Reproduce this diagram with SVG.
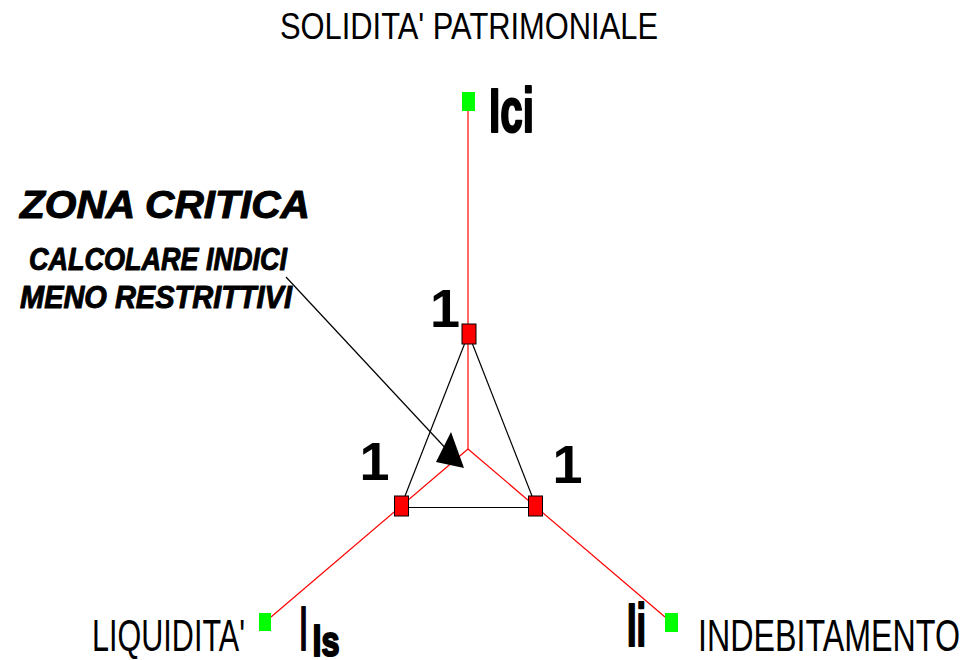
<svg xmlns="http://www.w3.org/2000/svg" width="977" height="660" viewBox="0 0 977 660">
<style>
.t{font-family:"Liberation Sans",Arial,sans-serif;fill:#000}
.b{font-weight:bold}
.i{font-style:italic}
.hv{stroke:#000;stroke-width:2.2;stroke-linejoin:round}
.md{stroke:#000;stroke-width:1;stroke-linejoin:round}
.red{stroke:#ff0000;stroke-width:1.2;fill:none}
.blk{stroke:#000;stroke-width:1.2;fill:none}
.rs{fill:#ff0000;stroke:#000;stroke-width:1}
.gs{fill:#00ff00;stroke:none}
</style>
<rect width="977" height="660" fill="#fff"/>
<g id="connectors">
<line class="red" x1="468" y1="111" x2="468" y2="449"/>
<line class="red" x1="468" y1="449" x2="271" y2="617"/>
<line class="red" x1="468" y1="449" x2="665" y2="617"/>
<line class="blk" x1="464.5" y1="344" x2="405" y2="496"/>
<line class="blk" x1="472.5" y1="344" x2="532" y2="496"/>
<line class="blk" x1="408" y1="507.5" x2="529" y2="507.5"/>
<line class="blk" x1="286" y1="277" x2="450" y2="453"/>
<polygon points="464,468 451,432 436,462" fill="#000"/>
</g>
<g id="axis-top">
<rect class="gs" x="462" y="92" width="13" height="19"/>
<text class="t b hv" x="489" y="132" font-size="63" textLength="45" lengthAdjust="spacingAndGlyphs">Ici</text>
<text class="t" x="280" y="39" font-size="37" textLength="378" lengthAdjust="spacingAndGlyphs">SOLIDITA' PATRIMONIALE</text>
</g>
<g id="axis-left">
<rect class="gs" x="259" y="613" width="12" height="18"/>
<text class="t" x="92" y="651" font-size="45" textLength="153" lengthAdjust="spacingAndGlyphs">LIQUIDITA'</text>
<text class="t b hv" x="300" y="650" font-size="63"><tspan textLength="7" lengthAdjust="spacingAndGlyphs">I</tspan><tspan x="312.5" y="656" font-size="42" textLength="27" lengthAdjust="spacingAndGlyphs">ls</tspan></text>
</g>
<g id="axis-right">
<rect class="gs" x="665" y="613" width="13" height="19"/>
<text class="t b hv" x="627" y="646" font-size="61" textLength="19" lengthAdjust="spacingAndGlyphs">Ii</text>
<text class="t" x="698" y="651" font-size="45" textLength="262" lengthAdjust="spacingAndGlyphs">INDEBITAMENTO</text>
</g>
<g id="node-top">
<rect class="rs" x="462" y="324" width="14" height="20"/>
<text class="t b" x="430" y="327" font-size="54">1</text>
</g>
<g id="node-left">
<rect class="rs" x="394.5" y="496" width="14" height="20"/>
<text class="t b" x="359.5" y="479.5" font-size="54">1</text>
</g>
<g id="node-right">
<rect class="rs" x="528.5" y="496" width="14" height="20"/>
<text class="t b" x="552.5" y="483" font-size="54">1</text>
</g>
<g id="zona-critica">
<text class="t b i md" x="20" y="218" font-size="38" textLength="290" lengthAdjust="spacingAndGlyphs">ZONA CRITICA</text>
<text class="t b i md" x="29" y="270" font-size="31" textLength="258" lengthAdjust="spacingAndGlyphs">CALCOLARE INDICI</text>
<text class="t b i md" x="20" y="308" font-size="31" textLength="272" lengthAdjust="spacingAndGlyphs">MENO RESTRITTIVI</text>
</g>
</svg>
